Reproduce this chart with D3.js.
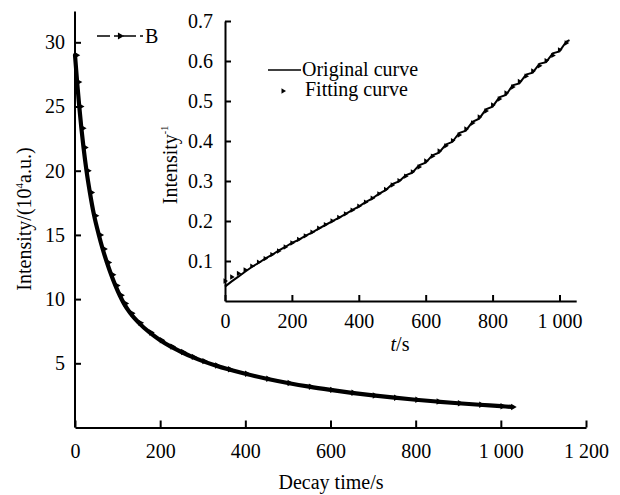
<!DOCTYPE html>
<html>
<head>
<meta charset="utf-8">
<script src="https://cdn.jsdelivr.net/npm/d3@7"></script>
<style>
  html, body { margin: 0; padding: 0; background: #fff; }
  svg text { font-family: "Liberation Serif", "DejaVu Serif", "Times New Roman", serif !important; fill: #000; }
  .axis path, .axis line { stroke: #000; stroke-width: 2; }
  .axis text { font-size: 20px; }
</style>
</head>
<body>
<svg id="chart" width="620" height="495"></svg>
<script>
// Decay of intensity (main panel)
const decayTime = [0, 5, 10, 15, 20, 27, 35, 45, 56, 65, 75, 85, 95, 105, 115, 130, 150, 175, 200,
  225, 250, 275, 300, 330, 360, 400, 450, 500, 550, 600, 650, 700, 750, 800, 850, 900, 950, 1000, 1025];
const decayIntensity = [29.0, 26.9, 25.0, 23.3, 21.8, 20.0, 18.3, 16.5, 15.0, 13.9, 12.85, 11.9, 11.05, 10.3, 9.65, 8.9, 8.15, 7.4, 6.8,
  6.3, 5.88, 5.5, 5.17, 4.83, 4.53, 4.18, 3.8, 3.47, 3.18, 2.93, 2.7, 2.5, 2.32, 2.16, 2.02, 1.89, 1.77, 1.66, 1.6];

// Inverse intensity (inset): measured curve
const origTime = [0, 20, 40, 60, 80, 100, 120, 140, 160, 180, 200, 220, 240, 260, 280, 300, 320, 340, 360, 380,
  400, 420, 440, 460, 480, 500, 520, 540, 560, 580, 600, 620, 640, 660, 680, 700, 720, 740, 760, 780,
  800, 820, 840, 860, 880, 900, 920, 940, 960, 980, 1000, 1020, 1030];
const origValue = [0.036, 0.049, 0.061, 0.073, 0.085, 0.095, 0.106, 0.115, 0.126, 0.135, 0.145, 0.153, 0.163, 0.171, 0.181, 0.190, 0.199, 0.208, 0.217, 0.227,
  0.236, 0.247, 0.256, 0.268, 0.277, 0.292, 0.299, 0.314, 0.321, 0.339, 0.346, 0.364, 0.371, 0.391, 0.398, 0.420, 0.426, 0.448, 0.456, 0.479,
  0.486, 0.509, 0.515, 0.539, 0.544, 0.566, 0.571, 0.593, 0.597, 0.619, 0.624, 0.648, 0.652];

// Inverse intensity (inset): fitted curve
const fitTime = [0, 20, 40, 60, 80, 100, 120, 140, 160, 180, 200, 220, 240, 260, 280, 300, 320, 340, 360, 380,
  400, 420, 440, 460, 480, 500, 520, 540, 560, 580, 600, 620, 640, 660, 680, 700, 720, 740, 760, 780,
  800, 820, 840, 860, 880, 900, 920, 940, 960, 980, 1000, 1020];
const fitValue = [0.050, 0.060, 0.069, 0.078, 0.087, 0.097, 0.106, 0.116, 0.125, 0.135, 0.145, 0.154, 0.163, 0.172, 0.182, 0.191, 0.200, 0.209, 0.218, 0.227,
  0.237, 0.247, 0.257, 0.268, 0.279, 0.290, 0.301, 0.312, 0.323, 0.335, 0.350, 0.362, 0.375, 0.388, 0.401, 0.415, 0.430, 0.445, 0.460, 0.475,
  0.490, 0.505, 0.520, 0.535, 0.549, 0.562, 0.575, 0.588, 0.601, 0.614, 0.628, 0.645];

const mainXTicks = [0, 200, 400, 600, 800, 1000, 1200];
const mainYTicks = [5, 10, 15, 20, 25, 30];
const insetXTicks = [0, 200, 400, 600, 800, 1000];
const insetYTicks = [0.1, 0.2, 0.3, 0.4, 0.5, 0.6, 0.7];

const SERIF = "Liberation Serif, DejaVu Serif, serif";
const FS = 20;
const svg = d3.select("#chart");
const fmtThousands = d => d >= 1000 ? String(d).replace(/(\d)(\d{3})$/, "$1 $2") : String(d);

// ---------- main panel ----------
const x = d3.scaleLinear().domain([0, 1200]).range([75, 586]);
const y = d3.scaleLinear().domain([0, 32.4]).range([427.5, 11.5]);

svg.append("g").attr("class", "axis").attr("transform", `translate(0,${y(0)})`)
  .call(d3.axisBottom(x).tickValues(mainXTicks).tickSizeInner(-7).tickSizeOuter(0).tickPadding(16).tickFormat(fmtThousands))
  .attr("font-family", SERIF);
const gy = svg.append("g").attr("class", "axis").attr("transform", `translate(${x(0)},0)`)
  .call(d3.axisLeft(y).tickValues(mainYTicks).tickSizeInner(-6).tickSizeOuter(0).tickPadding(10))
  .attr("font-family", SERIF);
gy.select(".domain").attr("d", `M0,${y(32.4)}V${y(0)}`);

svg.append("text").attr("x", 331).attr("y", 489).attr("text-anchor", "middle")
  .attr("font-size", FS).text("Decay time/s");

const yTitle = svg.append("text").attr("transform", "translate(31,219) rotate(-90)")
  .attr("text-anchor", "middle").attr("font-size", FS);
yTitle.append("tspan").text("Intensity/(10");
yTitle.append("tspan").attr("font-size", 11).attr("dy", -8).text("4");
yTitle.append("tspan").attr("dy", 8).text("a.u.)");

const decay = decayTime.map((t, i) => [t, decayIntensity[i]]);
svg.append("path").datum(decay)
  .attr("fill", "none").attr("stroke", "#000").attr("stroke-width", 4.2).attr("stroke-linecap", "round")
  .attr("d", d3.line().x(d => x(d[0])).y(d => y(d[1])).curve(d3.curveMonotoneX));
const tri = d3.symbol().type(d3.symbolTriangle).size(18);
svg.append("g").selectAll("path").data(decay).join("path")
  .attr("d", tri).attr("fill", "#000")
  .attr("transform", d => `translate(${x(d[0]) + 1.5},${y(d[1])}) rotate(90)`);

// legend "B"
svg.append("line").attr("x1", 97).attr("x2", 143).attr("y1", 36).attr("y2", 36)
  .attr("stroke", "#000").attr("stroke-width", 1.6).attr("stroke-dasharray", "13,4,5,4");
svg.append("path").attr("d", d3.symbol().type(d3.symbolTriangle).size(22))
  .attr("fill", "#000").attr("transform", "translate(120,36) rotate(90)");
svg.append("text").attr("x", 145).attr("y", 43).attr("font-size", FS).text("B");

// ---------- inset ----------
const ix = d3.scaleLinear().domain([0, 1050]).range([225, 576.2]);
const iy = d3.scaleLinear().domain([0, 0.7]).range([301, 21]);

svg.append("g").attr("class", "axis").attr("transform", `translate(0,${iy(0)})`)
  .call(d3.axisBottom(ix).tickValues(insetXTicks).tickSizeInner(-6).tickSizeOuter(0).tickPadding(13).tickFormat(fmtThousands))
  .attr("font-family", SERIF);
svg.append("g").attr("class", "axis").attr("transform", `translate(${ix(0)},0)`)
  .call(d3.axisLeft(iy).tickValues(insetYTicks).tickSizeInner(-6).tickSizeOuter(0).tickPadding(12).tickFormat(d3.format(".1f")))
  .attr("font-family", SERIF);

const tTitle = svg.append("text").attr("x", 400).attr("y", 351).attr("text-anchor", "middle").attr("font-size", FS);
tTitle.append("tspan").attr("font-style", "italic").text("t");
tTitle.append("tspan").text("/s");

const iTitle = svg.append("text").attr("transform", "translate(177,165) rotate(-90)")
  .attr("text-anchor", "middle").attr("font-size", FS);
iTitle.append("tspan").text("Intensity");
iTitle.append("tspan").attr("font-size", 10).attr("dy", -9).text("-1");

const orig = origTime.map((t, i) => [t, origValue[i]]);
svg.append("path").datum(orig)
  .attr("fill", "none").attr("stroke", "#000").attr("stroke-width", 2)
  .attr("d", d3.line().x(d => ix(d[0])).y(d => iy(d[1])));
const fit = fitTime.map((t, i) => [t, fitValue[i]]);
const smallTri = d3.symbol().type(d3.symbolTriangle).size(12);
svg.append("g").selectAll("path").data(fit).join("path")
  .attr("d", smallTri).attr("fill", "#000")
  .attr("transform", d => `translate(${ix(d[0])},${iy(d[1])}) rotate(90)`);

// inset legend
svg.append("line").attr("x1", 268).attr("x2", 301).attr("y1", 70).attr("y2", 70)
  .attr("stroke", "#000").attr("stroke-width", 1.6);
svg.append("text").attr("x", 302).attr("y", 76).attr("font-size", FS).text("Original curve");
svg.append("path").attr("d", d3.symbol().type(d3.symbolTriangle).size(12))
  .attr("fill", "#000").attr("transform", "translate(283,91) rotate(90)");
svg.append("text").attr("x", 305).attr("y", 96).attr("font-size", FS).text("Fitting curve");
</script>
</body>
</html>
